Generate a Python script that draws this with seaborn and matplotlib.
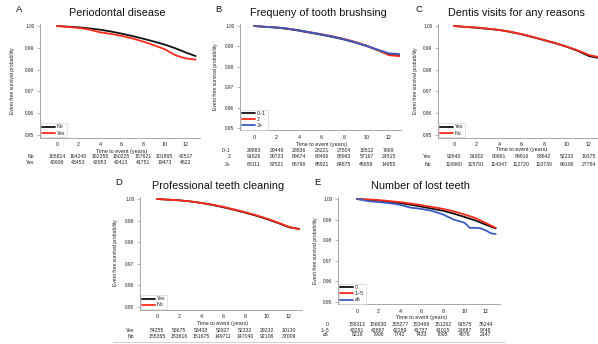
import numpy as np
import pandas as pd
import matplotlib
matplotlib.use("Agg")
import matplotlib.pyplot as plt
import matplotlib.transforms as mtrans
from matplotlib.lines import Line2D
import seaborn as sns

# ---------------- data ----------------
t_std = [0, 1, 2, 3, 4, 5, 6, 7, 8, 9, 10, 11, 12, 12.9]
risk_times = [0, 2, 4, 6, 8, 10, 12]
x_ticks = [0, 2, 4, 6, 8, 10, 12]
y_ticks = [0.95, 0.96, 0.97, 0.98, 0.99, 1.00]

# A: Periodontal disease
a_no = [1.0, .9997, .9994, .9989, .9983, .9975, .9965, .9954, .9942, .9929, .9915, .9898, .9878, .9862]
a_yes = [1.0, .9996, .9991, .9984, .9971, .9964, .9955, .9943, .9929, .9912, .9894, .9866, .9851, .9846]
a_risk_no = [165814, 164240, 162355, 160225, 157621, 101865, 42517]
a_risk_yes = [43606, 43453, 42953, 42413, 41751, 19473, 4622]

# B: Frequency of tooth brushing
b_01 = [1.0, .9996, .9992, .9986, .9977, .9967, .9957, .9946, .9934, .9919, .9902, .9882, .9860, .9856]
b_2 = [1.0, .9996, .9993, .9987, .9979, .9969, .9960, .9949, .9937, .9922, .9904, .9882, .9857, .9852]
b_3 = [1.0, .9996, .9993, .9987, .9979, .9969, .9959, .9948, .9935, .9920, .9903, .9884, .9866, .9863]
b_risk_01 = [29883, 29449, 28836, 28221, 27504, 18512, 7669]
b_risk_2 = [91626, 90723, 89674, 88496, 86993, 57167, 24515]
b_risk_3 = [88111, 87521, 86796, 85921, 84875, 45659, 14955]

# C: Dentist visits
c_yes = [1.0, .9996, .9992, .9987, .9982, .9973, .9962, .9949, .9935, .9921, .9905, .9886, .9862, .9853]
c_no = [1.0, .9996, .9993, .9988, .9982, .9974, .9963, .9950, .9936, .9922, .9906, .9888, .9867, .9857]
c_risk_yes = [92640, 91902, 90961, 89916, 88642, 52232, 19375]
c_risk_no = [116960, 115791, 114347, 112720, 110730, 69106, 27764]

# D: Professional teeth cleaning
d_yes = [1.0, .9997, .9994, .9989, .9982, .9973, .9962, .9950, .9937, .9923, .9907, .9889, .9869, .9862]
d_no = [1.0, .9997, .9994, .9989, .9982, .9974, .9964, .9952, .9939, .9925, .9909, .9891, .9871, .9860]
d_risk_yes = [54255, 53675, 53433, 52927, 52332, 29232, 10130]
d_risk_no = [155365, 153616, 151675, 149711, 147040, 92106, 37009]

# E: Number of lost teeth
e_0 = [1.0, .9996, .9992, .9986, .9980, .9972, .9963, .9953, .9943, .9929, .9913, .9896, .9875, .9857]
e_15 = [1.0, .9998, .9995, .9990, .9985, .9978, .9970, .9961, .9952, .9940, .9925, .9908, .9883, .9860]
t_e6 = [0, 1, 2, 3, 4, 5, 6, 7, 8, 9, 10, 10.5, 11, 11.5, 12, 12.5, 12.9]
e_6 = [1.0, .9990, .9985, .9980, .9972, .9958, .9952, .9942, .9925, .9900, .9885, .9860, .9860, .9858, .9847, .9833, .9830]
e_risk_0 = [158113, 156630, 155277, 153468, 151262, 91575, 35244]
e_risk_15 = [43291, 42867, 42289, 41737, 41015, 24887, 9748]
e_risk_6 = [8216, 7906, 7742, 7433, 7095, 4676, 2147]

BLACK, RED, BLUE = "#111111", "#ff2a1a", "#3b5bc4"

panels = [
    dict(letter="A", title="Periodontal disease",
         series=[("No", t_std, a_no, BLACK), ("Yes", t_std, a_yes, RED)],
         risk=[("No", a_risk_no), ("Yes", a_risk_yes)],
         left=40, right=200, y1=26, y95=135, x0=57, x12=186,
         letter_xy=(19, 10), title_xy=(117, 13), ylab_x=13,
         xlab_y=151, rows_y=[157, 163], rowlab_x=34),
    dict(letter="B", title="Frequeny of tooth brushsing",
         series=[("0~1", t_std, b_01, BLACK), ("2", t_std, b_2, RED), ("3+", t_std, b_3, BLUE)],
         risk=[("0~1", b_risk_01), ("2", b_risk_2), ("3+", b_risk_3)],
         left=240, right=401, y1=26, y95=128, x0=254, x12=389,
         letter_xy=(218, 10), title_xy=(318, 13), ylab_x=216,
         xlab_y=144, rows_y=[150, 157, 164], rowlab_x=231),
    dict(letter="C", title="Dentis visits for any reasons",
         series=[("Yes", t_std, c_yes, BLACK), ("No", t_std, c_no, RED)],
         risk=[("Yes", c_risk_yes), ("No", c_risk_no)],
         left=438, right=600, y1=26, y95=135, x0=454, x12=589,
         letter_xy=(419, 10), title_xy=(516, 13), ylab_x=416,
         xlab_y=150, rows_y=[157, 164], rowlab_x=431),
    dict(letter="D", title="Professional teeth cleaning",
         series=[("Yes", t_std, d_yes, BLACK), ("No", t_std, d_no, RED)],
         risk=[("Yes", d_risk_yes), ("No", d_risk_no)],
         left=140, right=302, y1=199, y95=307, x0=157, x12=289,
         letter_xy=(119, 182), title_xy=(218, 186), ylab_x=115,
         xlab_y=324, rows_y=[330, 336], rowlab_x=134),
    dict(letter="E", title="Number of lost teeth",
         series=[("0", t_std, e_0, BLACK), ("1~5", t_std, e_15, RED), ("\u22656", t_e6, e_6, BLUE)],
         risk=[("0", e_risk_0), ("1~5", e_risk_15), ("\u22656", e_risk_6)],
         left=338, right=500, y1=199, y95=302, x0=357, x12=486,
         letter_xy=(317, 182), title_xy=(420, 186), ylab_x=316,
         xlab_y=317, rows_y=[324, 330, 335], rowlab_x=329),
]

sns.set_theme(style="white")
plt.rcParams["font.family"] = ["Liberation Sans", "DejaVu Sans"]

W, H = 598, 344
fig = plt.figure(figsize=(W / 100, H / 100), dpi=100)
fig.patch.set_facecolor("white")

YTOP, YBOT = 1.0008, 0.9488
GRAY = "#9a9a9a"
TXT = "#222222"

for p in panels:
    s = (p["y95"] - p["y1"]) / 0.05  # px per unit
    top_px = p["y1"] - (YTOP - 1.0) * s
    bot_px = p["y95"] + (0.95 - YBOT) * s
    ux = (p["x12"] - p["x0"]) / 12.0
    xl = (p["left"] - p["x0"]) / ux
    xr = (p["right"] - p["x0"]) / ux
    ax = fig.add_axes([p["left"] / W, 1 - bot_px / H,
                       (p["right"] - p["left"]) / W, (bot_px - top_px) / H])
    frames = []
    for name, tt, vv, col in p["series"]:
        frames.append(pd.DataFrame({"time": tt, "surv": vv, "group": name}))
    df = pd.concat(frames, ignore_index=True)
    pal = {name: col for name, _, _, col in p["series"]}
    order = [name for name, *_ in p["series"]]
    sns.lineplot(data=df, x="time", y="surv", hue="group", hue_order=order,
                 palette=pal, estimator=None, sort=False, linewidth=1.3, ax=ax)
    ax.set_xlim(xl, xr)
    ax.set_ylim(YBOT, YTOP)
    ax.set_xticks(x_ticks)
    ax.set_yticks(y_ticks)
    ax.set_yticklabels([f"{v:.2f}" for v in y_ticks])
    ax.tick_params(axis="y", labelsize=3.4, length=2, width=0.5, color=GRAY,
                   pad=2, left=True, labelcolor=TXT)
    ax.tick_params(axis="x", labelsize=3.9, length=0, pad=3, labelcolor=TXT)
    ax.set_xlabel("")
    ax.set_ylabel("")
    for side in ["top", "right"]:
        ax.spines[side].set_visible(False)
    for side in ["left", "bottom"]:
        ax.spines[side].set_color(GRAY)
        ax.spines[side].set_linewidth(0.6)
    leg = ax.legend(loc="lower left", fontsize=3.8, frameon=True, handlelength=2.4,
                    borderpad=0.3, labelspacing=0.2, handletextpad=0.4,
                    borderaxespad=0.1, fancybox=False)
    leg.get_frame().set_edgecolor("#cccccc")
    leg.get_frame().set_linewidth(0.5)
    for t in leg.get_texts():
        t.set_color(TXT)

    # titles
    fig.text(p["letter_xy"][0] / W, 1 - p["letter_xy"][1] / H, p["letter"],
             fontsize=6.8, ha="center", va="center", color="#111111")
    fig.text(p["title_xy"][0] / W, 1 - p["title_xy"][1] / H, p["title"],
             fontsize=7.8, ha="center", va="center", color="#111111")
    # y label
    fig.text(p["ylab_x"] / W, 1 - ((p["y1"] + p["y95"]) / 2) / H,
             "Event free survival probability", rotation=90,
             fontsize=3.6, ha="center", va="center", color=TXT)
    # risk table
    tr = mtrans.blended_transform_factory(ax.transData, fig.transFigure)
    ax.text(6, 1 - p["xlab_y"] / H, "Time to event (years)", transform=tr,
            fontsize=3.9, ha="center", va="center", color=TXT, clip_on=False)
    for (lab, vals), ry in zip(p["risk"], p["rows_y"]):
        fig.text(p["rowlab_x"] / W, 1 - ry / H, lab, fontsize=3.7,
                 ha="right", va="center", color=TXT)
        for tx, v in zip(risk_times, vals):
            ax.text(tx, 1 - ry / H, str(v), transform=tr, fontsize=3.7,
                    ha="center", va="center", color=TXT, clip_on=False)

# thin separator below the lower tables
fig.add_artist(Line2D([113 / W, 505 / W], [1 - 342 / H, 1 - 342 / H],
                      transform=fig.transFigure, color="#c8c8c8", linewidth=0.6))

fig.savefig("out.png", dpi=100, facecolor="white")
